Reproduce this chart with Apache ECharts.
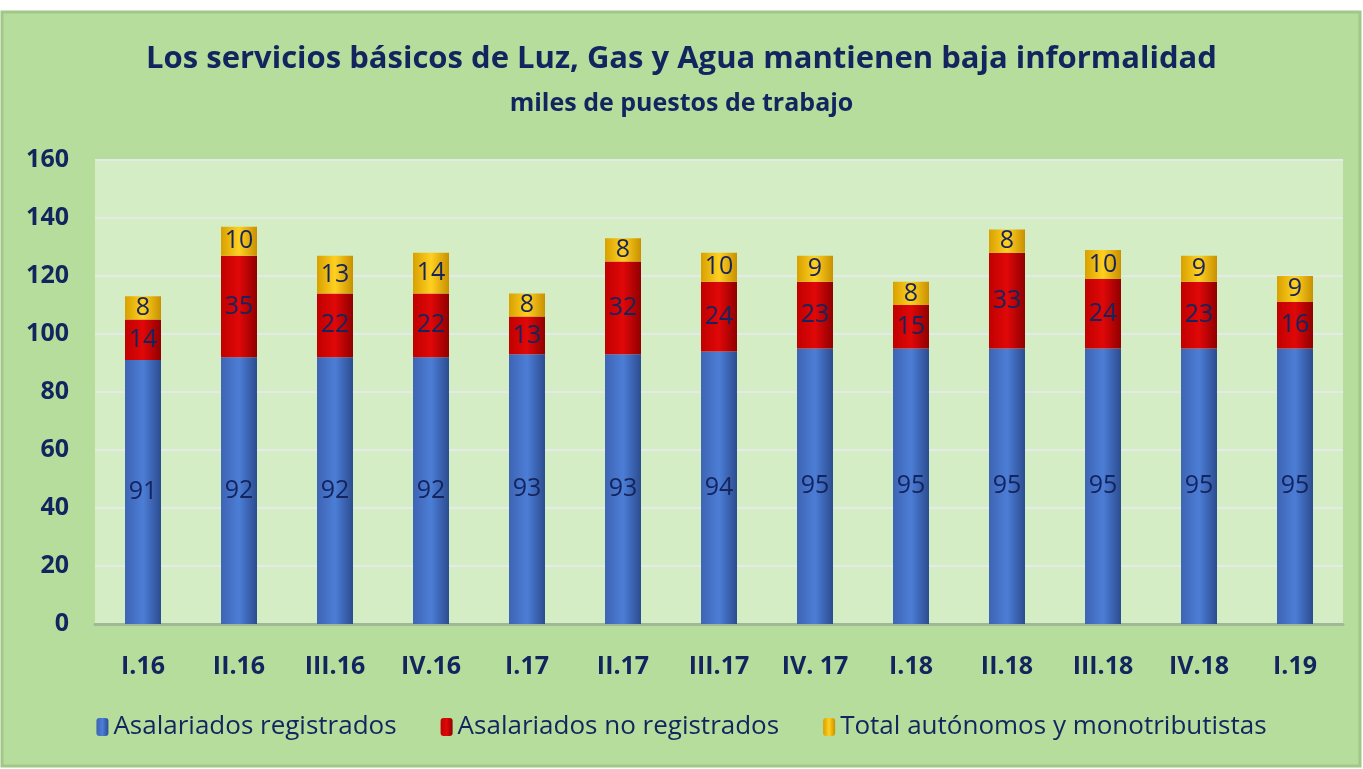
<!DOCTYPE html>
<html><head><meta charset="utf-8">
<script src="https://cdn.jsdelivr.net/npm/echarts@6/dist/echarts.min.js"></script>
<style>html,body{margin:0;padding:0;background:#fff}#c{width:1363px;height:769px}</style>
</head><body><div id="c"></div>
<script>
const categories = ['I.16','II.16','III.16','IV.16','I.17','II.17','III.17','IV. 17','I.18','II.18','III.18','IV.18','I.19'];
const registrados = [91,92,92,92,93,93,94,95,95,95,95,95,95];
const noRegistrados = [14,35,22,22,13,32,24,23,15,33,24,23,16];
const autonomos = [8,10,13,14,8,8,10,9,8,8,10,9,9];
const yTicks = [0,20,40,60,80,100,120,140,160];

const navy = '#14245e';
const font = "'Open Sans',sans-serif";
const chart = echarts.init(document.getElementById('c'));
function grad(c1,c2,c3){return new echarts.graphic.LinearGradient(0,0,1,0,[{offset:0,color:c1},{offset:0.5,color:c2},{offset:1,color:c3}]);}
const lbl = {show:true,position:'inside',color:navy,fontFamily:font,fontSize:25,fontWeight:'normal'};
chart.setOption({
  backgroundColor:'#ffffff',
  graphic:[
    {type:'rect',shape:{x:2,y:12,width:1358,height:754},style:{fill:'#b6dd9c',stroke:'#a0c888',lineWidth:3},z:-10}
  ],
  title:[
    {text:'Los servicios básicos de Luz, Gas y Agua mantienen baja informalidad',left:'center',top:39,
     textStyle:{color:navy,fontFamily:font,fontSize:31,fontWeight:'bold'}},
    {text:'miles de puestos de trabajo',left:'center',top:86,
     textStyle:{color:navy,fontFamily:font,fontSize:25,fontWeight:'bold'}}
  ],
  grid:{left:95,right:20,top:160,bottom:145,show:true,backgroundColor:'#d4edc4',borderWidth:0},
  legend:{bottom:24,left:'center',itemWidth:12,itemHeight:18,itemGap:44,
    textStyle:{color:navy,fontFamily:font,fontSize:26},
    data:['Asalariados registrados','Asalariados no registrados','Total autónomos y monotributistas']},
  xAxis:{type:'category',data:categories,axisTick:{show:false},
    axisLine:{lineStyle:{color:'#9fb89a',width:3}},
    axisLabel:{color:navy,fontFamily:font,fontSize:25,fontWeight:'bold',margin:30}},
  yAxis:{type:'value',min:0,max:160,interval:20,
    axisLine:{show:false},axisTick:{show:false},
    splitLine:{lineStyle:{color:'#e4ebe6',width:2}},
    axisLabel:{color:navy,fontFamily:font,fontSize:25,fontWeight:'bold',margin:26,
      formatter:v=>yTicks.includes(v)?String(v):''}},
  series:[
    {name:'Asalariados registrados',type:'bar',stack:'t',barWidth:36,data:registrados,
     itemStyle:{color:grad('#3e64b4','#4c7ed6','#2c4c90')},label:lbl},
    {name:'Asalariados no registrados',type:'bar',stack:'t',data:noRegistrados,
     itemStyle:{color:grad('#c00000','#e00808','#900000')},label:lbl},
    {name:'Total autónomos y monotributistas',type:'bar',stack:'t',data:autonomos,
     itemStyle:{color:grad('#d8a000','#ffd020','#c89000')},label:lbl}
  ]
});
</script></body></html>
